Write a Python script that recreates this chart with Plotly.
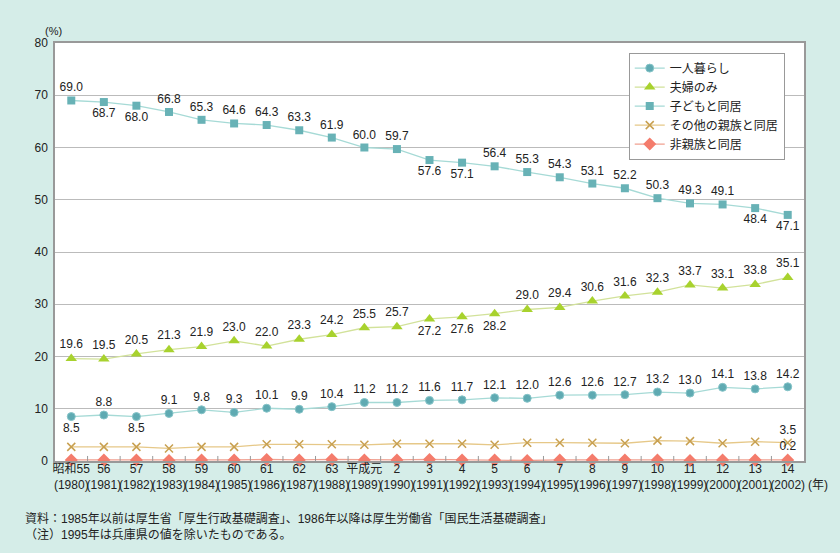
import plotly.graph_objects as go

years = ["昭和55", "56", "57", "58", "59", "60", "61", "62", "63", "平成元", "2", "3", "4", "5", "6", "7",
         "8", "9", "10", "11", "12", "13", "14"]
western = ["1980", "1981", "1982", "1983", "1984", "1985", "1986", "1987", "1988", "1989", "1990", "1991",
           "1992", "1993", "1994", "1995", "1996", "1997", "1998", "1999", "2000", "2001", "2002"]

alone = [8.5, 8.8, 8.5, 9.1, 9.8, 9.3, 10.1, 9.9, 10.4, 11.2, 11.2, 11.6, 11.7, 12.1, 12.0, 12.6, 12.6,
         12.7, 13.2, 13.0, 14.1, 13.8, 14.2]
couple = [19.6, 19.5, 20.5, 21.3, 21.9, 23.0, 22.0, 23.3, 24.2, 25.5, 25.7, 27.2, 27.6, 28.2, 29.0, 29.4,
          30.6, 31.6, 32.3, 33.7, 33.1, 33.8, 35.1]
children = [69.0, 68.7, 68.0, 66.8, 65.3, 64.6, 64.3, 63.3, 61.9, 60.0, 59.7, 57.6, 57.1, 56.4, 55.3, 54.3,
            53.1, 52.2, 50.3, 49.3, 49.1, 48.4, 47.1]
other_rel = [2.7, 2.7, 2.7, 2.4, 2.7, 2.7, 3.2, 3.2, 3.2, 3.1, 3.3, 3.3, 3.3, 3.1, 3.5, 3.5, 3.5, 3.4,
             3.9, 3.8, 3.4, 3.7, 3.5]
non_rel = [0.2, 0.2, 0.2, 0.1, 0.2, 0.2, 0.3, 0.2, 0.3, 0.2, 0.2, 0.3, 0.2, 0.2, 0.1, 0.2, 0.2, 0.2,
           0.2, 0.1, 0.2, 0.2, 0.2]

alone_below = [0, 2]
couple_below = [11, 12, 13]
children_below = [1, 2, 11, 12, 21, 22]

FONT = "Liberation Sans, Noto Sans CJK JP, sans-serif"

ticktext = [f"{y}<br>({w})" for y, w in zip(years, western)]

x = list(range(len(years)))


def positions(n, below):
    return ["bottom center" if i in below else "top center" for i in range(n)]


def labels(vals, only_last=False):
    if only_last:
        return [""] * (len(vals) - 1) + [f"{vals[-1]:.1f}"]
    return [f"{v:.1f}" for v in vals]


fig = go.Figure()
fig.add_trace(go.Scatter(
    x=x, y=alone, name="一人暮らし", mode="lines+markers+text",
    line=dict(color="#a6dad6", width=1.3),
    marker=dict(symbol="circle", size=8, color="#5faab2", line=dict(color="#86c4c8", width=1)),
    text=labels(alone), textposition=positions(23, alone_below),
    textfont=dict(size=12, color="#222222", family=FONT), cliponaxis=False))
fig.add_trace(go.Scatter(
    x=x, y=couple, name="夫婦のみ", mode="lines+markers+text",
    line=dict(color="#d2e29a", width=1.3),
    marker=dict(symbol="triangle-up", size=10, color="#a8d22e"),
    text=labels(couple), textposition=positions(23, couple_below),
    textfont=dict(size=12, color="#222222", family=FONT), cliponaxis=False))
fig.add_trace(go.Scatter(
    x=x, y=children, name="子どもと同居", mode="lines+markers+text",
    line=dict(color="#a6dad6", width=1.3),
    marker=dict(symbol="square", size=8, color="#68b2b6"),
    text=labels(children), textposition=positions(23, children_below),
    textfont=dict(size=12, color="#222222", family=FONT), cliponaxis=False))
fig.add_trace(go.Scatter(
    x=x, y=other_rel, name="その他の親族と同居", mode="lines+markers+text",
    line=dict(color="#e6c888", width=1.3),
    marker=dict(symbol="x-thin", size=8, color="#c8a050", line=dict(color="#c8a050", width=1.5)),
    text=labels(other_rel, True), textposition="top center",
    textfont=dict(size=12, color="#222222", family=FONT), cliponaxis=False))
fig.add_trace(go.Scatter(
    x=x, y=non_rel, name="非親族と同居", mode="lines+markers+text",
    line=dict(color="#f0a090", width=1.3),
    marker=dict(symbol="diamond", size=10, color="#f47c6c"),
    text=labels(non_rel, True), textposition="top center",
    textfont=dict(size=12, color="#222222", family=FONT), cliponaxis=False))

fig.update_layout(
    width=840, height=553,
    paper_bgcolor="#d5ede8", plot_bgcolor="#ffffff",
    margin=dict(l=55, r=36, t=43, b=92),
    font=dict(family=FONT, size=12, color="#222222"),
    showlegend=True,
    legend=dict(x=0.766, y=0.977, xanchor="left", yanchor="top",
                bgcolor="#ffffff", bordercolor="#999999", borderwidth=1,
                font=dict(size=12, family=FONT), tracegroupgap=0),
    xaxis=dict(type="linear", range=[-0.5, 22.5], tickmode="array", tickvals=x, ticktext=ticktext,
               tickangle=0, showgrid=False, showline=True, linecolor="#999999", linewidth=1.5,
               mirror=True, ticks="", ticklabelstandoff=-4,
               tickfont=dict(size=12, family=FONT), zeroline=False),
    yaxis=dict(range=[0, 80], dtick=10, showgrid=True, gridcolor="#bbbbbb", gridwidth=1,
               showline=True, linecolor="#999999", linewidth=1.5, mirror=True, ticks="",
               ticklabelstandoff=3,
               tickfont=dict(size=12, family=FONT), zeroline=False),
    annotations=[
        dict(text="(%)", xref="paper", yref="paper", x=-0.016, y=1.0, yshift=4, xanchor="left",
             yanchor="bottom", showarrow=False, font=dict(size=11)),
        dict(text="(年)", xref="x", yref="paper", x=22, xshift=18, y=0, yshift=-24,
             xanchor="left", yanchor="middle", showarrow=False, font=dict(size=12)),
        dict(text="資料：1985年以前は厚生省「厚生行政基礎調査」、1986年以降は厚生労働省「国民生活基礎調査」",
             xref="paper", yref="paper", x=-0.043, y=-0.138, xanchor="left", yanchor="middle",
             showarrow=False, font=dict(size=12)),
        dict(text="（注）1995年は兵庫県の値を除いたものである。",
             xref="paper", yref="paper", x=-0.043, y=-0.177, xanchor="left", yanchor="middle",
             showarrow=False, font=dict(size=12)),
    ],
)

# small boundary tick marks along the bottom axis
boundaries = [i + 0.5 for i in range(len(x) - 1)]
for b in boundaries:
    fig.add_shape(type="line", xref="x", yref="paper", x0=b, x1=b, y0=0, y1=0.012,
                  line=dict(color="#999999", width=1))

fig.write_html("out.html", config={"displayModeBar": False},
               post_script="document.body.style.margin='0';document.body.style.background='#d5ede8';")
